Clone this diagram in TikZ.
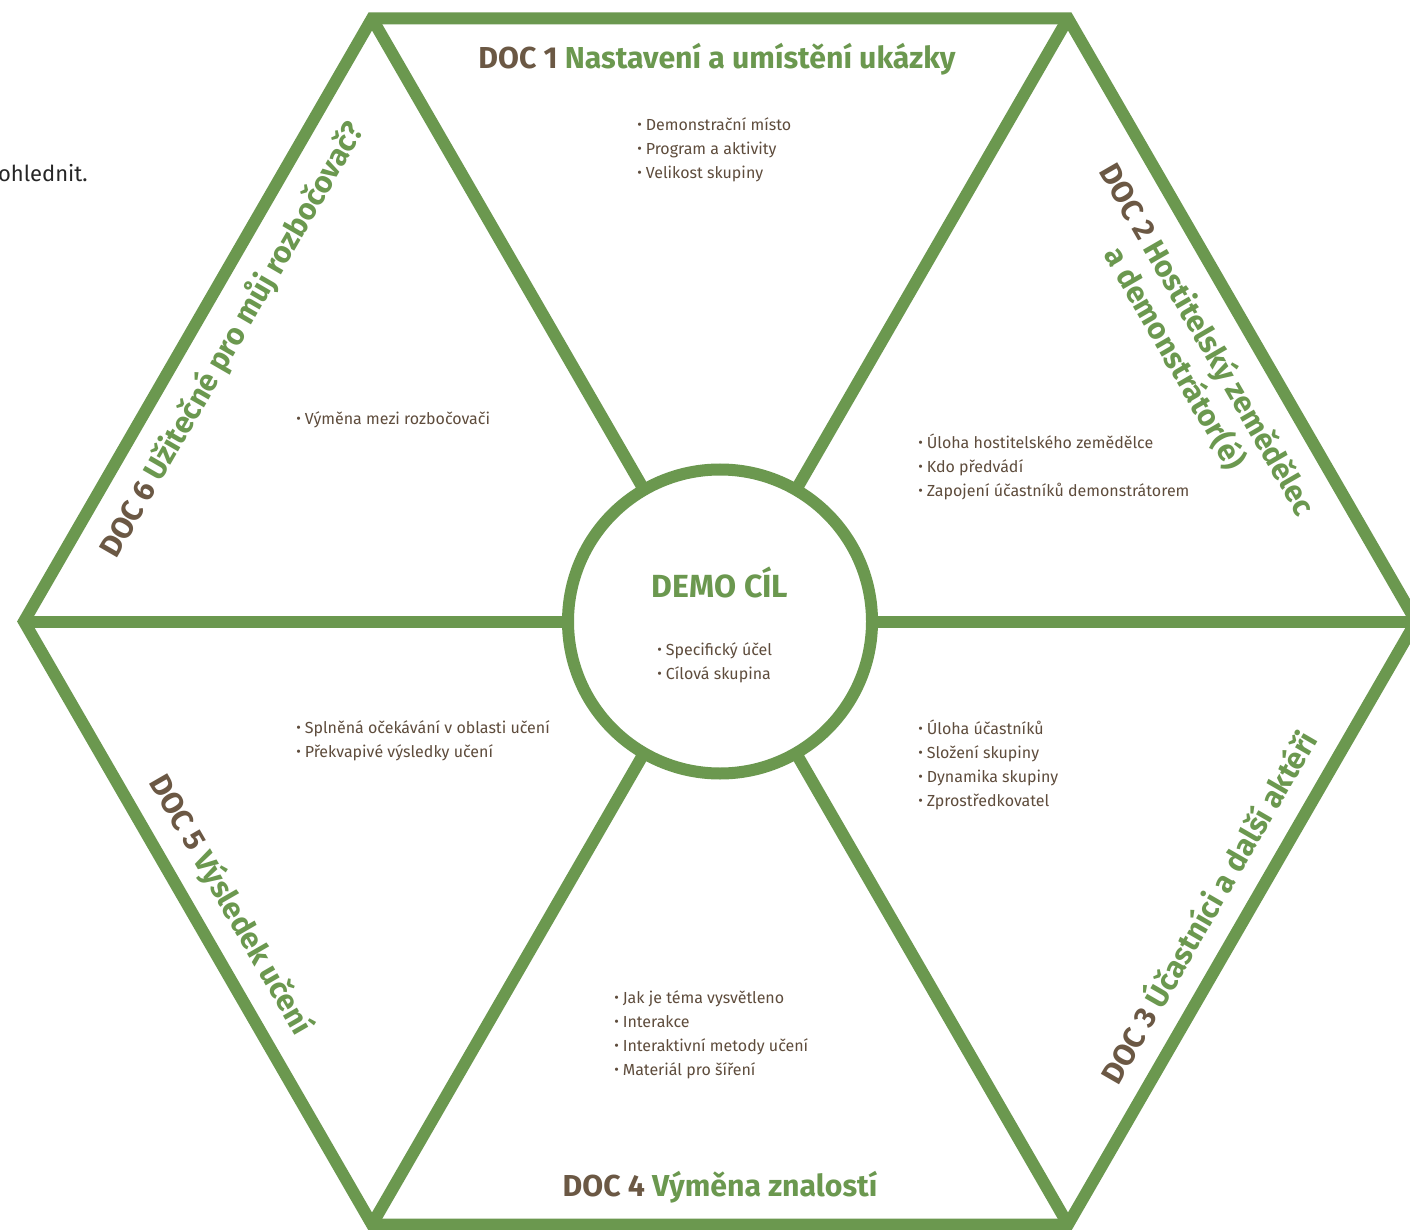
\documentclass[tikz,border=0pt]{standalone}
\usepackage{fontspec}
\setmainfont{Fira Sans}
\definecolor{hexgreen}{HTML}{6B984F}
\definecolor{docbrown}{HTML}{6B5844}
\definecolor{bodytext}{HTML}{5E4C3C}
\newcommand\itm{\raisebox{0.6pt}{\fontsize{10.5}{10}\selectfont •}\hspace{3pt}}
\newcommand\dn[1]{\textcolor{docbrown}{#1}}
\tikzset{
  frame/.style={draw=hexgreen, line width=9pt, line join=miter},
  head/.style={font=\fontsize{22.7}{28}\selectfont\bfseries, text=hexgreen, inner sep=0pt},
  items/.style={font=\fontsize{12}{18}\selectfont, text=bodytext, align=left, anchor=west, inner sep=0pt},
}
\begin{document}
\begin{tikzpicture}[x=0.75pt, y=-0.75pt]
\useasboundingbox (0,0) rectangle (1410,1230);
\fill[white] (0,0) rectangle (1410,1230);
% vertices
\coordinate (vTL) at (372,18.5);
\coordinate (vTR) at (1068,18.5);
\coordinate (vR) at (1416,621.5);
\coordinate (vBR) at (1068,1224.5);
\coordinate (vBL) at (372,1224.5);
\coordinate (vL) at (24,621.5);
\draw[frame] (vTL) -- (vTR) -- (vR) -- (vBR) -- (vBL) -- (vL) -- cycle;
\node[circle, draw=hexgreen, line width=9pt, fill=white, minimum size=228pt, inner sep=0pt, outer sep=0pt] (hub) at (720,621.5) {};
\foreach \v in {vTL,vTR,vR,vBR,vBL,vL} \draw[frame] (hub) -- (\v);

% page fragment
\node[font=\fontsize{16.5}{20}\selectfont, text=black!85, anchor=base east, inner sep=0pt] (frag) at (88,182) {ohlednit.};

% headings
\node[head, anchor=base] (t1) at (717,69) {\dn{DOC 1} Nastavení a umístění ukázky};
\node[head, align=center, rotate=-60] (t2) at (1191,349) {\dn{DOC 2} Hostitelský zemědělec\\a demonstrátor(é)};
\node[head, rotate=60] (t3) at (1206,906) {\dn{DOC 3} Účastníci a další aktéři};
\node[head, anchor=base] (t4) at (720,1196) {\dn{DOC 4} Výměna znalostí};
\node[head, rotate=-60] (t5) at (230,905) {\dn{DOC 5} Výsledek učení};
\node[head, rotate=60] (t6) at (232,340) {\dn{DOC 6} Užitečné pro můj rozbočovač?};
\node[head, anchor=base, font=\fontsize{24}{28}\selectfont\bfseries] (tc) at (720,597) {DEMO CÍL};

% bullet lists
\node[items] (b1) at (637,150) {\itm Demonstrační místo\\\itm Program a aktivity\\\itm Velikost skupiny};
\node[items] (b2) at (918,467) {\itm Úloha hostitelského zemědělce\\\itm Kdo předvádí\\\itm Zapojení účastníků demonstrátorem};
\node[items] (b3) at (918,765) {\itm Úloha účastníků\\\itm Složení skupiny\\\itm Dynamika skupiny\\\itm Zprostředkovatel};
\node[items] (b4) at (614,1035) {\itm Jak je téma vysvětleno\\\itm Interakce\\\itm Interaktivní metody učení\\\itm Materiál pro šíření};
\node[items] (b5) at (296,741) {\itm Splněná očekávání v oblasti učení\\\itm Překvapivé výsledky učení};
\node[items] (b6) at (296,420) {\itm Výměna mezi rozbočovači};
\node[items] (bc) at (657,663) {\itm Specifický účel\\\itm Cílová skupina};
\end{tikzpicture}
\end{document}
